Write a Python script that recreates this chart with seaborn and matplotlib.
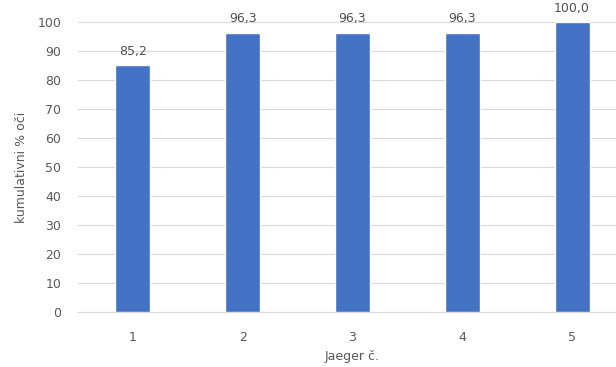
import matplotlib
matplotlib.use('Agg')
import matplotlib.pyplot as plt
import seaborn as sns
import pandas as pd

# chart data
jaeger = ['1', '2', '3', '4', '5']
cum_pct = [85.2, 96.3, 96.3, 96.3, 100.0]
y_ticks = [0, 10, 20, 30, 40, 50, 60, 70, 80, 90, 100]

df = pd.DataFrame({'jaeger': jaeger, 'pct': cum_pct})

sns.set_style('white')
plt.rcParams['font.family'] = ['DejaVu Sans']

fig = plt.figure(figsize=(6.16, 3.67), dpi=100)
ax = fig.add_axes([78 / 616, 55 / 367, 549 / 616, 290 / 367])

sns.barplot(data=df, x='jaeger', y='pct', color='#4472C4', width=0.32,
            saturation=1, ax=ax, zorder=3)

ax.set_ylim(0, 100)
ax.set_yticks(y_ticks)
ax.yaxis.grid(True, color='#d9d9d9', linewidth=0.8, zorder=0)
ax.set_axisbelow(True)
for s in ['top', 'right', 'left']:
    ax.spines[s].set_visible(False)
ax.spines['bottom'].set_color('#d9d9d9')
ax.tick_params(axis='both', length=0, labelsize=9, colors='#595959')
ax.tick_params(axis='x', pad=14)
ax.tick_params(axis='y', pad=12)

# value labels above bars, decimal comma
for i, v in enumerate(cum_pct):
    ax.text(i, v + 2.5, f'{v:.1f}'.replace('.', ','), ha='center', va='bottom',
            fontsize=9, color='#505050')

ax.set_xlabel('Jaeger č.', fontsize=9, color='#595959', labelpad=4)
ax.set_ylabel('kumulativni % oči', fontsize=9, color='#595959', labelpad=7)

fig.savefig('out.png', dpi=100)
